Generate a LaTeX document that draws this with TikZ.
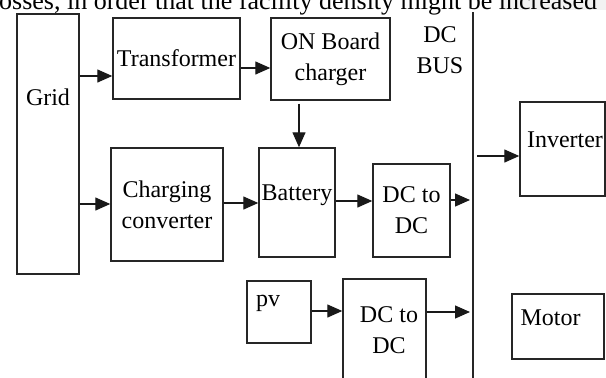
\documentclass[tikz,border=0pt]{standalone}
\usepackage{fontspec}
\setmainfont{Liberation Serif}
\usetikzlibrary{arrows.meta}

\tikzset{
  blk/.style={draw=black!85, line width=1.4pt, inner sep=0pt, align=center},
  arr/.style={-{Triangle[length=15pt,width=13pt]}, line width=1.3pt, draw=black!90},
}

\begin{document}
\begin{tikzpicture}[x=1pt,y=-1pt,font=\fontsize{24}{31}\selectfont]
\useasboundingbox (0,0) rectangle (606,378);
\clip (0,0) rectangle (606,378);
% cut-off text line above the figure
\fill[gray!10] (500,-5) rectangle (606,10);
\node[anchor=base west, inner sep=0pt, font=\fontsize{26}{30}\selectfont] (head) at (-1,9)
  {osses, in order that the facility density might be increased};
% blocks
\node[blk, minimum width=62pt, minimum height=260pt,
  label={[yshift=47pt]center:Grid}] (grid) at (48,144) {};
\node[blk, minimum width=127pt, minimum height=81pt] (trans) at (176.5,58.5) {Transformer};
\node[blk, minimum width=119pt, minimum height=82pt] (onb) at (330.5,59) {ON Board\\charger};
\node[blk, minimum width=112pt, minimum height=113pt] (chg) at (167,204.5) {Charging\\converter};
\node[blk, minimum width=76pt, minimum height=109pt,
  label={[yshift=7.5pt]center:Battery}] (batt) at (297,202.5) {};
\node[blk, minimum width=77pt, minimum height=93pt] (dca) at (411.5,210.5) {DC to\\DC};
\node[blk, minimum width=85pt, minimum height=94pt,
  label={[xshift=2.5pt,yshift=9pt]center:Inverter}] (inv) at (562.5,149) {};
\node[blk, minimum width=64pt, minimum height=62pt,
  label={[xshift=-11pt,yshift=9pt]center:pv}] (pv) at (279,312) {};
\node[blk, minimum width=83pt, minimum height=111pt,
  label={[align=center,xshift=4.5pt,yshift=4.5pt]center:DC to\\DC}] (dcb) at (384.5,334.5) {};
\node[blk, minimum width=92pt, minimum height=65pt,
  label={[xshift=-7.5pt,yshift=8.5pt]center:Motor}] (mot) at (558,326.5) {};
% dc bus
\coordinate (bustop) at (473,12);
\coordinate (busbot) at (473,400);
\draw[line width=1.4pt, black!85] (bustop) -- (busbot);
\node[align=center, inner sep=0pt] (busl) at (440,50) {DC\\BUS};
% connections
\draw[arr] (grid.east |- 0,76) -- (trans.west |- 0,76);
\draw[arr] (trans.east |- 0,68) -- (onb.west |- 0,68);
\draw[arr, shorten <=3pt] (onb.south -| 299,0) -- (batt.north -| 299,0);
\draw[arr] (grid.east |- 0,204) -- (chg.west |- 0,204);
\draw[arr] (chg.east |- 0,203) -- (batt.west |- 0,203);
\draw[arr] (batt.east |- 0,201) -- (dca.west |- 0,201);
\draw[arr, shorten >=3pt] (dca.east |- 0,200) -- (bustop |- 0,200);
\draw[arr, shorten <=4pt] (bustop |- 0,156) -- (inv.west |- 0,156);
\draw[arr] (pv.east |- 0,311) -- (dcb.west |- 0,311);
\draw[arr, shorten >=3pt] (dcb.east |- 0,312) -- (bustop |- 0,312);
\end{tikzpicture}
\end{document}
